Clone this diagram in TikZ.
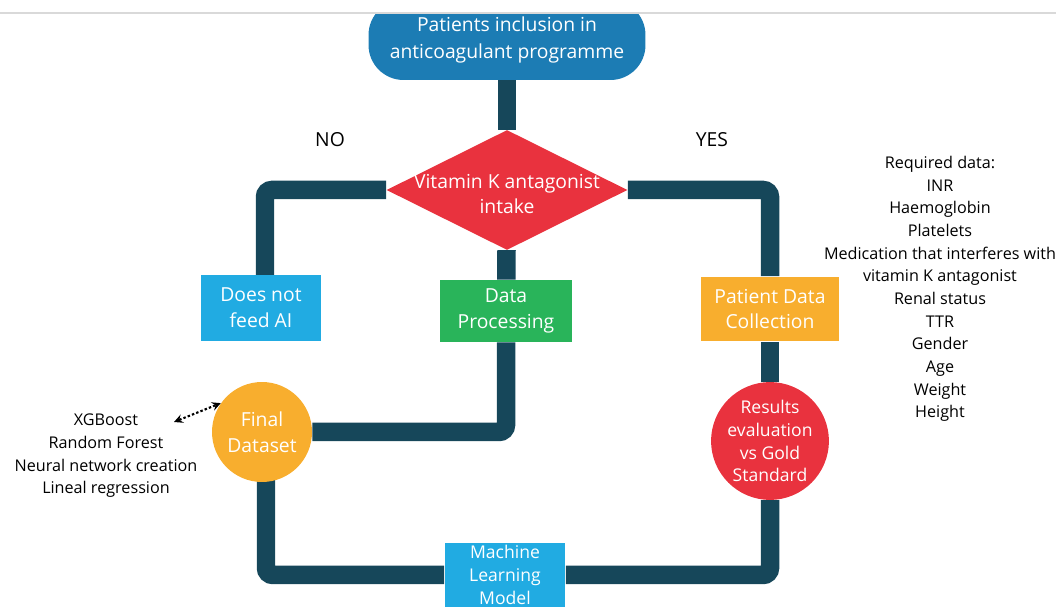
\documentclass[tikz,border=0pt]{standalone}
\usepackage{fontspec}
\setmainfont{Open Sans}
\usepackage{tikz}
\usetikzlibrary{calc,positioning,arrows,shapes,arrows.meta,backgrounds}
\definecolor{pipecol}{HTML}{16475A}
\definecolor{topblue}{HTML}{1C7CB4}
\definecolor{redfill}{HTML}{E9323E}
\definecolor{skyblue}{HTML}{21ABE2}
\definecolor{greenfill}{HTML}{29B45A}
\definecolor{orangefill}{HTML}{F8AE2E}
\tikzstyle{pipe}      = [line width=0.37cm, draw=pipecol, rounded corners=4pt]
\tikzstyle{startbox}  = [rectangle, rounded corners=0.7cm, minimum width=5.54cm, minimum height=1.6cm, fill=topblue, text=white, align=center, font=\fontsize{11}{15.3}\selectfont]
\tikzstyle{decision}  = [diamond, minimum width=4.82cm, minimum height=2.4cm, inner sep=0pt, fill=redfill]
\tikzstyle{process}   = [rectangle, inner sep=0pt, text=white, align=center, font=\fontsize{11}{14.7}\selectfont]
\tikzstyle{roundbox}  = [circle, inner sep=0pt, text=white, align=center]
\tikzstyle{infotext}  = [align=center, font=\fontsize{9.2}{12.9}\selectfont]
\tikzstyle{dotarrow}  = [line width=1.2pt, dash pattern=on 1.4pt off 1.2pt, <->, >=stealth]

\begin{document}
\begin{tikzpicture}[x=0.02cm,y=-0.02cm]
        \useasboundingbox (0,0) rectangle (1056,607);
        \clip (0,0) rectangle (1056,607);

        % start of the programme, cut by the page edge
        \begin{scope}
            \clip (0,13) rectangle (1056,607);
            \node[startbox] (start) at (507,40) {Patients inclusion in\\anticoagulant programme};
        \end{scope}
        \draw[black!15, line width=0.6pt] (0,13) -- (1056,13);

        \node[decision] (vka) at (507,190) {};
        \node[text=white, align=center, font=\fontsize{11}{14.7}\selectfont] (vkatext) at (507,194) {Vitamin K antagonist\\intake};

        \draw (330,140) node (no) {\fontsize{11}{13}\selectfont NO};
        \draw (712,140) node (yes) {\fontsize{11}{13}\selectfont YES};

        \node[process, fill=skyblue, minimum width=2.42cm, minimum height=1.34cm] (nofeed) at (261,308) {Does not\\feed AI};
        \node[process, fill=greenfill, minimum width=2.66cm, minimum height=1.24cm] (proc) at (506,311) {Data\\Processing};
        \node[process, fill=orangefill, minimum width=2.76cm, minimum height=1.3cm] (collect) at (770,309) {Patient Data\\Collection};

        \node[roundbox, fill=orangefill, minimum size=2cm, font=\fontsize{11}{14.7}\selectfont] (final) at (262,432) {Final\\Dataset};
        \node[roundbox, fill=redfill, minimum size=2.32cm, font=\fontsize{10}{13}\selectfont] (results) at (770,441) {Results\\evaluation\\vs Gold\\Standard};
        \node[process, fill=skyblue, minimum width=2.42cm, minimum height=1.28cm, font=\fontsize{10}{13}\selectfont] (ml) at (505,575) {Machine\\Learning\\Model};

        \node[infotext] (algos) at (106,456) {XGBoost\\Random Forest\\Neural network creation\\Lineal regression};
        \node[infotext] (reqdata) at (940,289) {Required data:\\INR\\Haemoglobin\\Platelets\\Medication that interferes with\\vitamin K antagonist\\Renal status\\TTR\\Gender\\Age\\Weight\\Height};

        \coordinate (xgb) at (174,422);
        \draw[dotarrow] (xgb) -- (final.145);

        \begin{scope}[on background layer]
            \draw[pipe] (start) -- (vka);
            \draw[pipe] (vka) -| ($(nofeed)+(4,0)$);
            \draw[pipe] (vka) -| (collect);
            \draw[pipe] (vka) -- (proc);
            \draw[pipe] (proc) |- (final);
            \draw[pipe] (collect) -- (results);
            \draw[pipe] ($(final)+(4,0)$) |- (ml);
            \draw[pipe] (ml) -| (results);
        \end{scope}
    \end{tikzpicture}
\end{document}
